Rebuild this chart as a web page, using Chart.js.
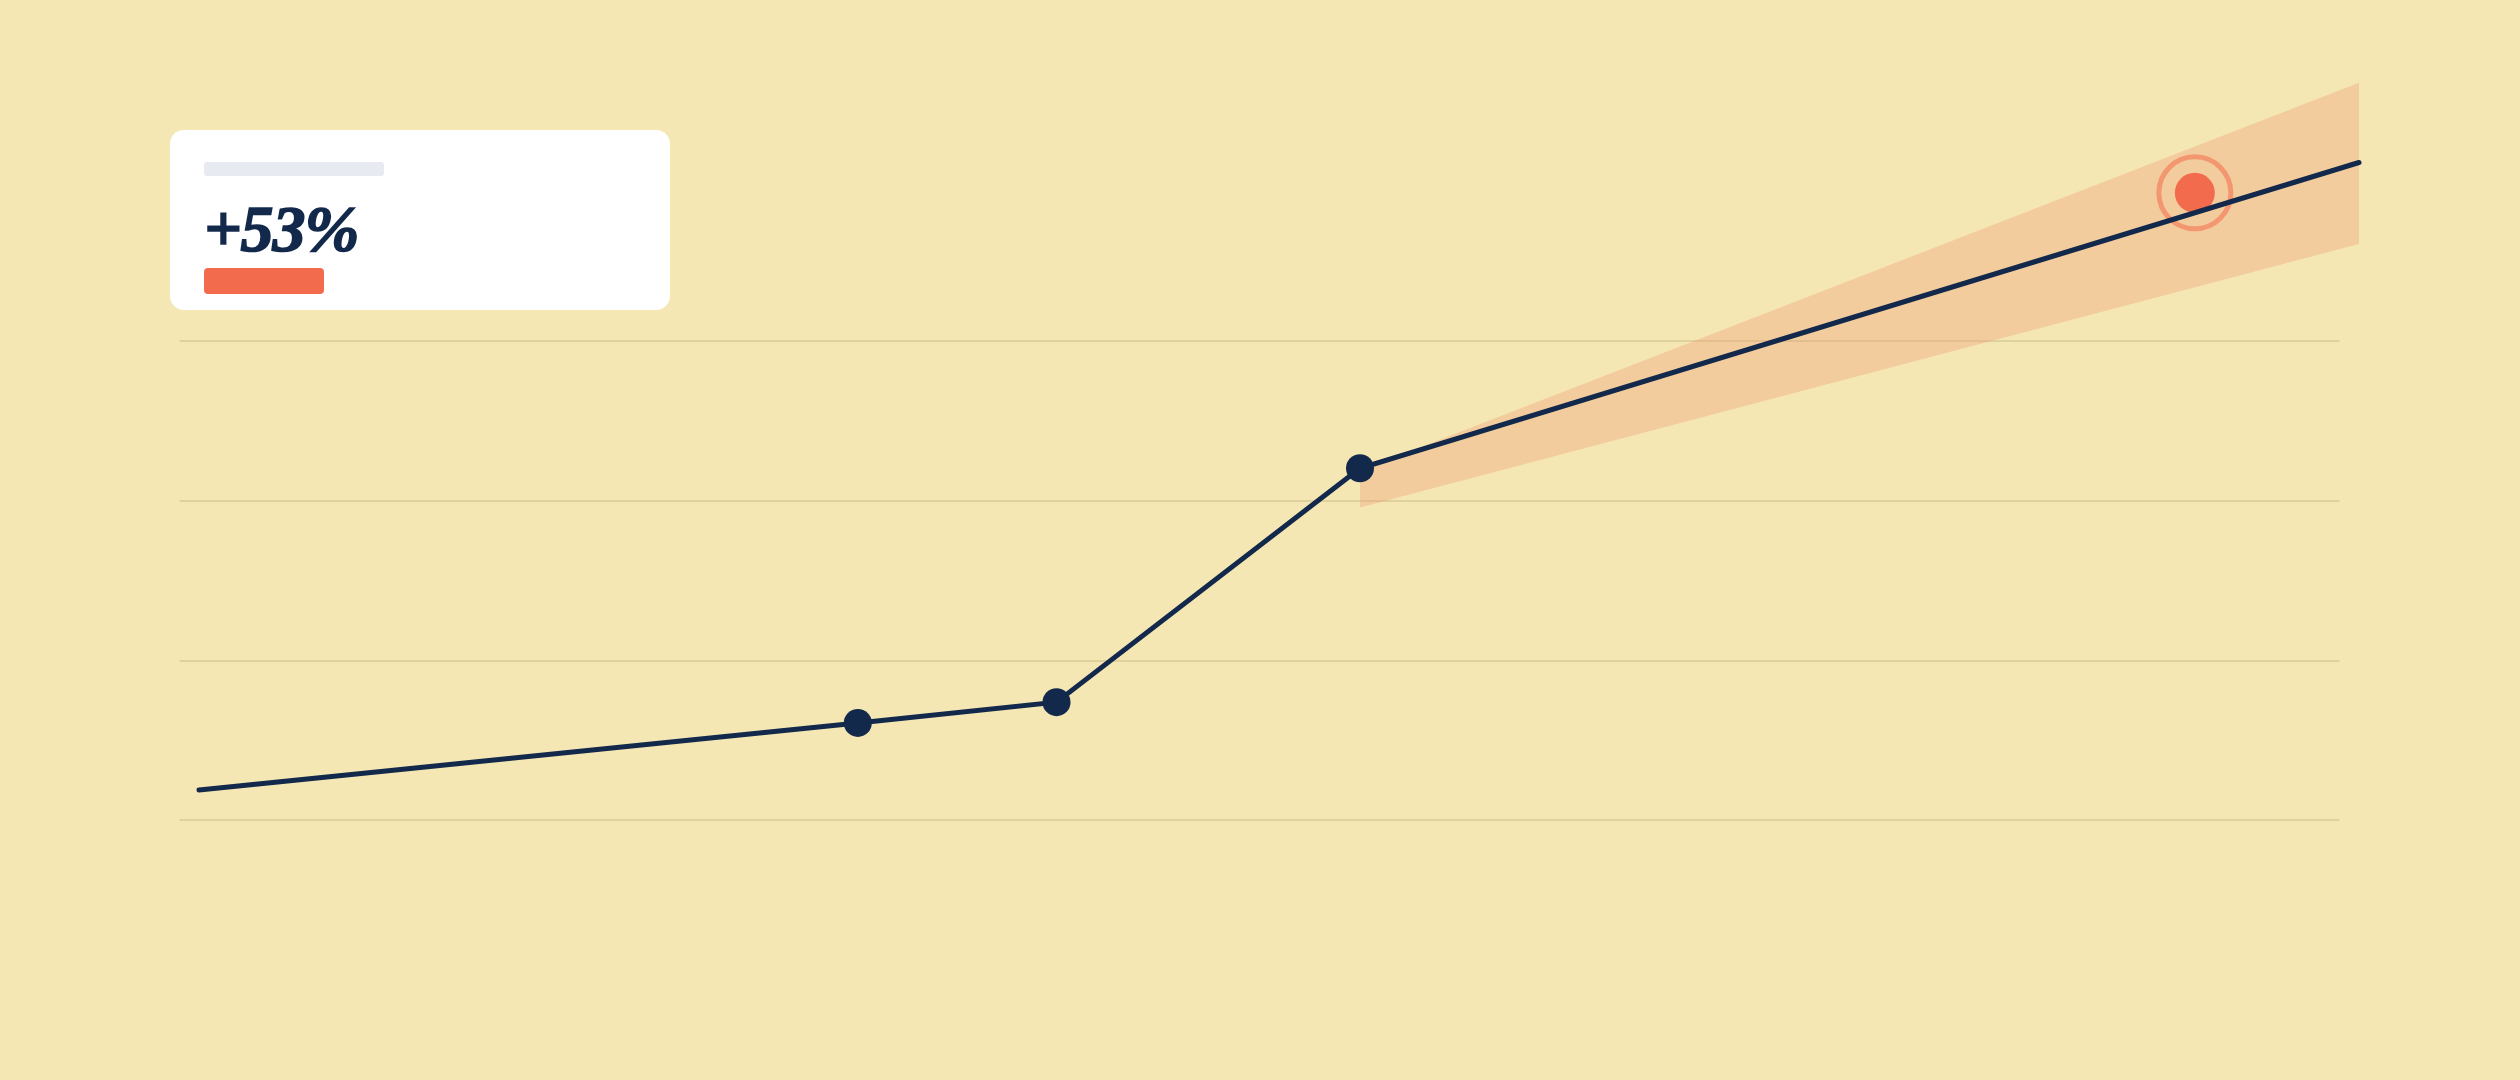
<!DOCTYPE html>
<html>
<head>
<meta charset="utf-8">
<script src="https://cdn.jsdelivr.net/npm/chart.js@4"></script>
<style>
  html, body { margin: 0; padding: 0; background: #F4E7B4; }
  #wrap { position: relative; width: 2520px; height: 1080px; }
  #chart { position: absolute; left: 0; top: 0; }
  .card { position: absolute; left: 170px; top: 130px; width: 500px; height: 180px; background: #fff; border-radius: 14px; }
  .card .label { position: absolute; left: 34px; top: 32px; width: 180px; height: 14px; background: #E8EAF1; border-radius: 3px; }
  .card .value { position: absolute; left: 34px; top: 66px; font-family: "Liberation Serif", serif; font-weight: bold; font-style: italic; font-size: 66px; line-height: 1; color: #13294B; letter-spacing: -1px; -webkit-text-stroke: 1.6px #13294B; }
  .card .bar { position: absolute; left: 34px; top: 138px; width: 120px; height: 26px; background: #F26B4C; border-radius: 4px; }
</style>
</head>
<body>
<div id="wrap">
  <canvas id="chart" width="2520" height="1080"></canvas>
  <div class="card">
    <div class="label"></div>
    <div class="value">+53%</div>
    <div class="bar"></div>
  </div>
</div>
<script>
// valores da série principal (eixo x 0-100, eixo y em unidades da grade)
const lineX = [0, 30.5, 39.7, 53.75, 100];
const lineY = [1.9, 6.1, 7.4, 22.05, 41.2];
const pointSizes = [0, 14, 14, 14, 0];

// faixa de projeção
const bandX = [53.75, 100];
const bandTop = [21.9, 46.2];
const bandBottom = [19.6, 36.1];

// meta
const targetX = [92.4];
const targetY = [39.3];

// linhas de grade
const gridValues = [0, 10, 20, 30];
const gridFrom = -0.9;
const gridTo = 99.1;

const toPoints = (xs, ys) => xs.map((x, i) => ({ x: x, y: ys[i] }));

const gridPlugin = {
  id: 'gridLines',
  beforeDatasetsDraw(chart) {
    const ctx = chart.ctx;
    const xs = chart.scales.x, ys = chart.scales.y;
    ctx.save();
    ctx.strokeStyle = '#DFD29C';
    ctx.lineWidth = 2;
    gridValues.forEach(v => {
      const y = Math.round(ys.getPixelForValue(v));
      ctx.beginPath();
      ctx.moveTo(xs.getPixelForValue(gridFrom), y);
      ctx.lineTo(xs.getPixelForValue(gridTo), y);
      ctx.stroke();
    });
    ctx.restore();
  }
};

new Chart(document.getElementById('chart'), {
  type: 'line',
  data: {
    datasets: [
      {
        data: toPoints(lineX, lineY),
        borderColor: '#13294B',
        borderWidth: 5,
        borderCapStyle: 'round',
        pointRadius: pointSizes,
        pointBackgroundColor: '#13294B',
        pointBorderWidth: 0,
        fill: false,
        order: 0
      },
      {
        data: toPoints(targetX, targetY),
        showLine: false,
        pointRadius: 20,
        pointBackgroundColor: '#F26B4C',
        pointBorderWidth: 0,
        order: 1
      },
      {
        data: toPoints(targetX, targetY),
        showLine: false,
        pointRadius: 36,
        pointBackgroundColor: 'rgba(0,0,0,0)',
        pointBorderColor: 'rgba(242, 107, 76, 0.55)',
        pointBorderWidth: 5,
        order: 2
      },
      {
        data: toPoints(bandX, bandTop),
        borderWidth: 0,
        pointRadius: 0,
        backgroundColor: 'rgba(244, 150, 115, 0.33)',
        fill: '+1',
        order: 3
      },
      {
        data: toPoints(bandX, bandBottom),
        borderWidth: 0,
        pointRadius: 0,
        fill: false,
        order: 4
      }
    ]
  },
  options: {
    responsive: false,
    animation: false,
    clip: false,
    layout: { autoPadding: false, padding: { left: 199, right: 161, top: 22, bottom: 100 } },
    plugins: { legend: { display: false }, tooltip: { enabled: false } },
    scales: {
      x: { type: 'linear', min: 0, max: 100, display: false },
      y: { type: 'linear', min: -10, max: 50, display: false }
    }
  },
  plugins: [gridPlugin]
});
</script>
</body>
</html>
